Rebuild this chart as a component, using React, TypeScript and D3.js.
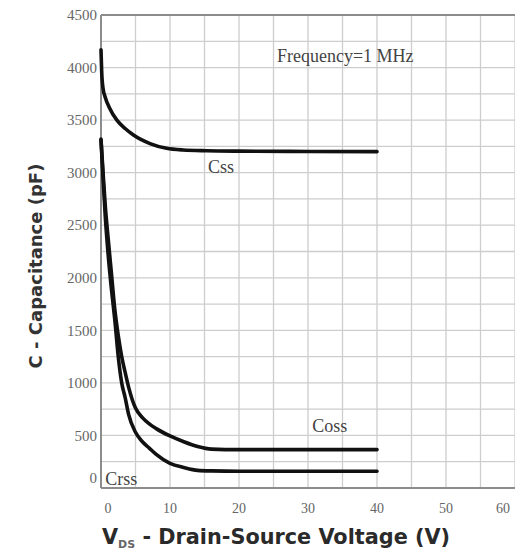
import { useEffect, useRef } from "react";
import * as d3 from "d3";

// capacitance curves: V_DS (V) -> C (pF)
const cissV = [0, 0.1, 0.3, 0.6, 1.2, 2.3, 3.5, 4.7, 7.1, 9.5, 11.9, 15.3, 20, 30, 40];
const cissC = [4170, 3960, 3800, 3720, 3620, 3500, 3420, 3358, 3277, 3232, 3216, 3209, 3205, 3202, 3200];

const cossV = [0, 0.3, 0.6, 1, 1.5, 2, 2.5, 3, 3.5, 4, 5, 6, 7, 8, 10, 12, 14, 16, 20, 30, 40];
const cossC = [3320, 3000, 2700, 2400, 2050, 1700, 1450, 1250, 1100, 960, 760, 670, 610, 565, 495, 440, 395, 370, 365, 365, 365];

const crssV = [0, 0.3, 0.6, 1, 1.5, 2, 2.5, 3, 3.5, 4, 5, 6, 7, 8, 10, 12, 14, 16, 20, 30, 40];
const crssC = [3310, 2950, 2600, 2250, 1900, 1600, 1250, 1000, 860, 700, 530, 440, 380, 320, 235, 195, 168, 163, 160, 160, 160];

const xTicks = [0, 10, 20, 30, 40, 50, 60];
const yTicks = [0, 500, 1000, 1500, 2000, 2500, 3000, 3500, 4000, 4500];

const curveNames = ["Css", "Coss", "Crss"];
const noteText = "Frequency=1 MHz";

const App = () => {
  const svgRef = useRef<SVGSVGElement>(null);

  useEffect(() => {
    const w = 515;
    const h = 557;
    const svg = d3.select(svgRef.current).attr("width", w).attr("height", h);
    svg.selectAll("*").remove();

    // scales
    const x = d3.scaleLinear().domain([0, 60]).range([101, 515]);
    const y = d3.scaleLinear().domain([0, 4500]).range([488, 15]);

    // grid, every 5 V and every 250 pF
    const grid = svg.append("g").attr("stroke", "#cdcdcd").attr("stroke-width", 1.3);
    grid
      .selectAll("line.v")
      .data(d3.range(5, 61, 5))
      .join("line")
      .attr("x1", (d) => x(d))
      .attr("x2", (d) => x(d))
      .attr("y1", y(4500))
      .attr("y2", y(0));
    grid
      .selectAll("line.h")
      .data(d3.range(250, 4500, 250))
      .join("line")
      .attr("x1", x(0))
      .attr("x2", x(60))
      .attr("y1", (d) => y(d))
      .attr("y2", (d) => y(d));

    // frame lines
    const frame = svg.append("g").attr("stroke", "#8c8c8c").attr("stroke-width", 2);
    frame.append("line").attr("x1", x(0)).attr("x2", x(0)).attr("y1", y(4500)).attr("y2", y(0));
    frame.append("line").attr("x1", x(0)).attr("x2", x(60)).attr("y1", y(0)).attr("y2", y(0));
    frame.append("line").attr("x1", x(0)).attr("x2", x(60)).attr("y1", y(4500)).attr("y2", y(4500));

    // tick labels
    svg
      .append("g")
      .selectAll("text")
      .data(yTicks)
      .join("text")
      .attr("x", 97)
      .attr("y", (d) => Math.min(y(d), 478))
      .attr("dy", "0.35em")
      .attr("text-anchor", "end")
      .attr("font-family", "'Liberation Serif', serif")
      .attr("font-size", 15)
      .attr("fill", "#666")
      .text((d) => d);

    svg
      .append("g")
      .selectAll("text")
      .data(xTicks)
      .join("text")
      .attr("x", (d) => Math.min(Math.max(x(d), 108), 503))
      .attr("y", 513)
      .attr("text-anchor", "middle")
      .attr("font-family", "'Liberation Serif', serif")
      .attr("font-size", 14)
      .attr("fill", "#666")
      .text((d) => d);

    // curves
    const line = d3
      .line<[number, number]>()
      .x((d) => x(d[0]))
      .y((d) => y(d[1]))
      .curve(d3.curveMonotoneX);
    const series: [number, number][][] = [
      cissV.map((v, i) => [v, cissC[i]]),
      cossV.map((v, i) => [v, cossC[i]]),
      crssV.map((v, i) => [v, crssC[i]]),
    ];
    svg
      .append("g")
      .selectAll("path")
      .data(series)
      .join("path")
      .attr("d", (d) => line(d))
      .attr("fill", "none")
      .attr("stroke", "#111")
      .attr("stroke-width", 3.6)
      .attr("stroke-linecap", "round")
      .attr("stroke-linejoin", "round");

    // curve names and test condition
    const namePos = [
      [15.5, 3000],
      [30.6, 533],
      [0.6, 29],
    ];
    svg
      .append("g")
      .selectAll("text")
      .data(curveNames)
      .join("text")
      .attr("x", (d, i) => x(namePos[i][0]))
      .attr("y", (d, i) => y(namePos[i][1]))
      .attr("font-family", "'Liberation Serif', serif")
      .attr("font-size", 18)
      .attr("fill", "#444")
      .text((d) => d);

    svg
      .append("text")
      .attr("x", x(25.5))
      .attr("y", y(4050))
      .attr("font-family", "'Liberation Serif', serif")
      .attr("font-size", 18)
      .attr("fill", "#444")
      .text(noteText);

    // axis titles
    const xt = svg
      .append("text")
      .attr("x", 102)
      .attr("y", 544)
      .attr("font-family", "'DejaVu Sans', sans-serif")
      .attr("font-weight", "bold")
      .attr("font-size", 20.8)
      .attr("fill", "#2a2a2a");
    xt.append("tspan").text("V");
    xt.append("tspan").attr("dy", 4).attr("font-size", 11).attr("fill", "#666").text("DS");
    xt.append("tspan").attr("dy", -4).text(" - Drain-Source Voltage (V)");

    svg
      .append("text")
      .attr("transform", "translate(42,266) rotate(-90)")
      .attr("text-anchor", "middle")
      .attr("font-family", "'DejaVu Sans', sans-serif")
      .attr("font-weight", "bold")
      .attr("font-size", 18)
      .attr("fill", "#333")
      .text("C - Capacitance (pF)");
  }, []);

  return (
    <div>
      <svg ref={svgRef} style={{ position: "absolute", left: 0, top: 0, background: "#fff" }}></svg>
    </div>
  );
};

export default App;
